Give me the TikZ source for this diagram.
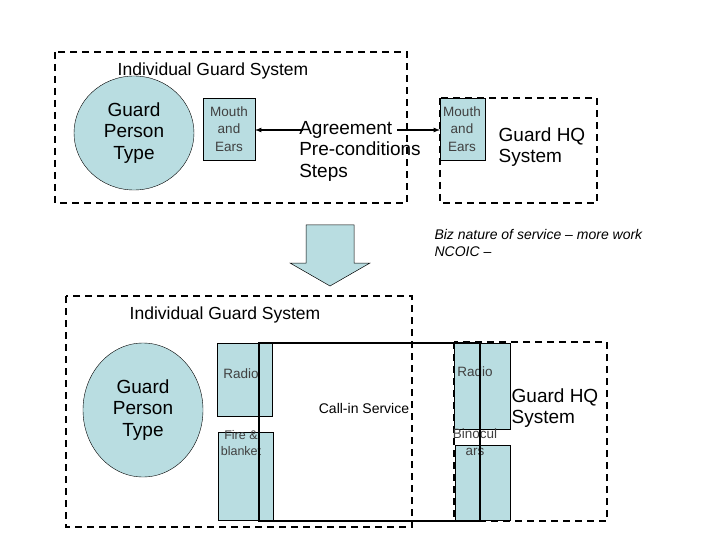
\documentclass[tikz,border=0pt]{standalone}
\usepackage{fontspec}
\setmainfont{Liberation Sans}
\usetikzlibrary{shapes.geometric,shapes.arrows}
\definecolor{fillb}{HTML}{B9DDE1}
\begin{document}
\begin{tikzpicture}[x=1pt,y=-1pt,
  dbox/.style={draw,line width=1.3pt,dash pattern=on 7pt off 5pt},
  pbox/.style={draw,fill=fillb,line width=0.5pt},
  big/.style={font=\fontsize{19}{21.5}\selectfont,align=center},
  small/.style={font=\fontsize{13.5}{17.5}\selectfont,align=center,text=black!75},
  lbl/.style={font=\fontsize{17.5}{20}\selectfont}]
\useasboundingbox (0,0) rectangle (720,540);
% top
\draw[dbox] (55,52) rectangle (407,203);
\node[lbl] (t1) at (213,71) {Individual Guard System};
\node[draw,ellipse,fill=fillb,minimum width=120pt,minimum height=114pt,inner sep=0pt] (c1) at (134,133) {};
\node[big] at (c1) {Guard\\Person\\Type};
\draw[pbox] (203,98) rectangle (255,160);
\node[small] (m1) at (229,129) {Mouth\\and\\Ears};
\draw[dbox] (440,98) rectangle (597,203);
\draw[pbox] (440,98) rectangle (485,160);
\node[small] (m2) at (462,129) {Mouth\\and\\Ears};
\node[big,align=left] (ag) at (360,151) {Agreement\\Pre-conditions\\Steps};
\node[big,align=left] (hq1) at (542,147) {Guard HQ\\System};
\coordinate (a1s) at (303,130); \coordinate (a1e) at (255,130);
\coordinate (a2s) at (397,130); \coordinate (a2e) at (440,130);
\draw[-latex,line width=1.2pt] (a1s) -- (a1e);
\draw[-latex,line width=1.2pt] (a2s) -- (a2e);
% block arrow
\draw[fill=fillb,line width=0.5pt] (306,225) -- (354,225) -- (354,263) -- (370,263) -- (330,286) -- (290,263) -- (306,263) -- cycle;
\node[anchor=west,align=left,font=\itshape\fontsize{14}{17}\selectfont] (biz) at (431,243) {Biz nature of service -- more work\\NCOIC --};
% bottom
\draw[dbox] (66,296) rectangle (412,527);
\node[lbl] (t2) at (225,315) {Individual Guard System};
\node[draw,ellipse,fill=fillb,minimum width=120pt,minimum height=134pt,inner sep=0pt] (c2) at (143,410) {};
\node[big] at (c2) {Guard\\Person\\Type};
\draw[pbox] (217,343) rectangle (272,416);
\node[small] (r1) at (241,374) {Radio};
\draw[pbox] (218,432) rectangle (273,520);
\node[small,font=\fontsize{12.5}{16}\selectfont] (f1) at (241,443) {Fire \&\\blanket};
\draw[dbox] (454,342) rectangle (607,521);
\draw[pbox] (454,343) rectangle (510,429);
\node[small] (r2) at (475,372) {Radio};
\draw[pbox] (455,445) rectangle (510,520);
\node[small] (b2) at (475,442) {Binocul\\ars};
\draw[line width=1.3pt] (259,343) rectangle (480,521);
\node[font=\fontsize{14}{17}\selectfont] (cs) at (364,408) {Call-in Service};
\node[big,align=left] (hq2) at (555,408) {Guard HQ\\System};
\end{tikzpicture}
\end{document}
